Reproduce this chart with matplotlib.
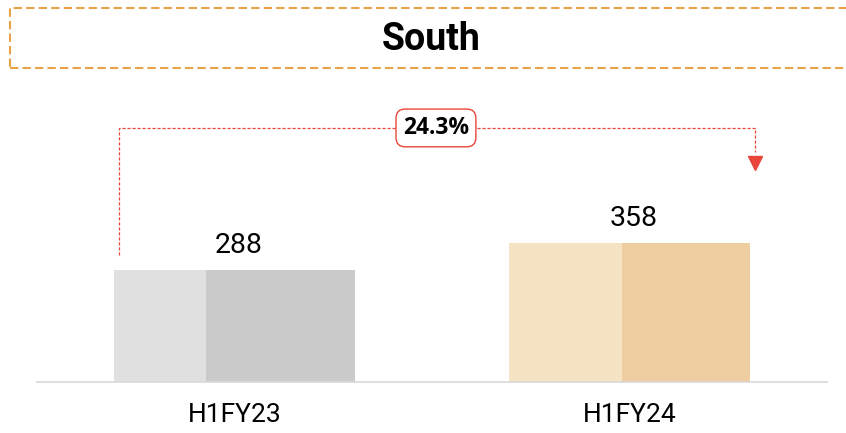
import matplotlib
matplotlib.use("Agg")
import matplotlib.pyplot as plt
from matplotlib.patches import Rectangle

# data
categories = ["H1FY23", "H1FY24"]
values = [288, 358]
growth_label = "24.3%"
title = "South"

# style: light / dark halves of each bar, share of bar width that is light
light_cols = ["#e0e0e0", "#f6e3c4"]
dark_cols = ["#cacaca", "#eecda1"]
light_share = [0.38, 0.47]

plt.rcParams['font.family'] = ['Roboto', 'DejaVu Sans']

fig = plt.figure(figsize=(8.46, 4.33), dpi=100)
ax = fig.add_axes([37 / 846, 51 / 433, 790 / 846, 300 / 433])

bw = 0.608
for i, v in enumerate(values):
    left = i - bw / 2
    lw = bw * light_share[i]
    ax.bar(left, v, width=lw, align='edge', color=light_cols[i], linewidth=0)
    ax.bar(left + lw, v, width=bw - lw, align='edge', color=dark_cols[i], linewidth=0)
    ax.text(i + 0.01, v + 27, str(v), ha='center', va='bottom', fontsize=20.5, color='black')

ax.set_xlim(-0.5, 1.5)
ax.set_ylim(0, 771)
ax.set_xticks(range(len(categories)))
ax.set_xticklabels(categories, fontsize=19)
ax.tick_params(axis='x', length=0, pad=15)
ax.set_yticks([])
for s in ['top', 'right', 'left']:
    ax.spines[s].set_visible(False)
ax.spines['bottom'].set_color('#d9d9d9')
ax.spines['bottom'].set_linewidth(1.2)

# growth bracket
red = '#e8463a'
x0 = 0 - bw / 2 + 0.012
x1 = 1 + bw / 2 + 0.013
ytop = 653
ax.plot([x0, x0, x1, x1], [values[0] + 38, ytop, ytop, 592],
        color=red, linestyle=(0, (2.5, 1.5)), linewidth=0.9)
ax.plot([x1], [563], marker='v', markersize=10, color=red, linestyle='none')
ax.text(0.51, ytop, growth_label, ha='center', va='center', fontsize=16.5,
        fontweight='bold', family=['Open Sans', 'DejaVu Sans'],
        bbox=dict(boxstyle='round,pad=0.3,rounding_size=0.4', fc='white', ec=red, lw=1))

# title box
box = Rectangle((10 / 846, 1 - 68 / 433), 1.0, 60 / 433, transform=fig.transFigure,
                fill=False, edgecolor='#e8a34a', linestyle=(0, (4, 2)), linewidth=1.5,
                clip_on=False)
fig.patches.append(box)
fig.text(431 / 846, 1 - 39 / 433, title, ha='center', va='center', fontsize=27,
         fontweight='bold')

fig.savefig('out.png', dpi=100)
